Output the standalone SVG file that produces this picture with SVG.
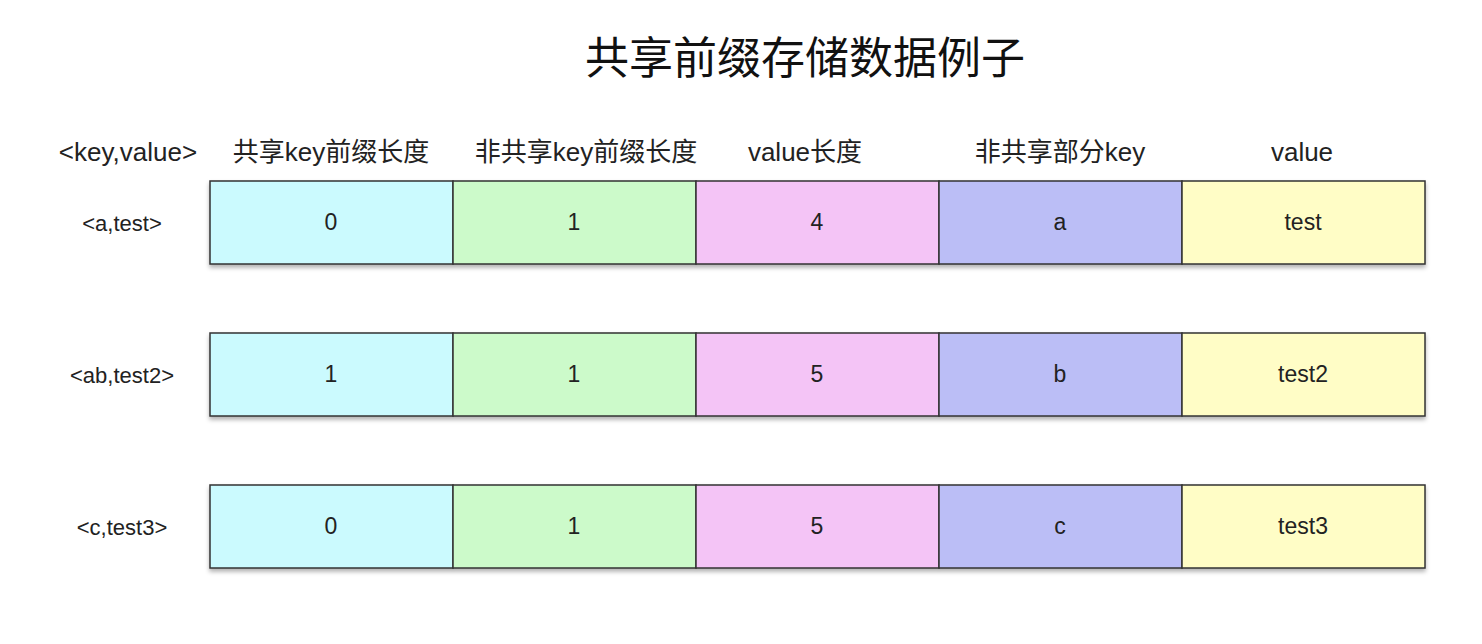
<svg xmlns="http://www.w3.org/2000/svg" width="1482" height="644" viewBox="0 0 1482 644">
<style>
.t{font-family:"Liberation Sans","Noto Sans CJK SC",sans-serif;fill:#222;text-anchor:middle;dominant-baseline:central}
.h{font-family:"Liberation Sans","Noto Sans CJK SC",sans-serif;font-size:26px;fill:#222;text-anchor:middle;dominant-baseline:central}
.c{stroke:#333;stroke-width:1.5}
.v{font-size:23px}
.l{font-size:22px}
</style>
<defs>
<filter id="sh" x="-5%" y="-10%" width="110%" height="130%">
<feDropShadow dx="0" dy="3" stdDeviation="2" flood-color="#000" flood-opacity="0.3"/>
</filter>
</defs>
<rect width="1482" height="644" fill="#fff"/>
<text x="805" y="55" font-family="Noto Sans CJK SC,sans-serif" font-size="44" fill="#111" text-anchor="middle" dominant-baseline="central">共享前缀存储数据例子</text>
<g id="headers">
<text class="h" x="128" y="152">&lt;key,value&gt;</text>
<text class="h" x="331" y="152">共享key前缀长度</text>
<text class="h" x="586" y="152">非共享key前缀长度</text>
<text class="h" x="805" y="152">value长度</text>
<text class="h" x="1060" y="152">非共享部分key</text>
<text class="h" x="1302" y="152">value</text>
</g>
<g id="row1">
<text class="t l" x="122" y="223">&lt;a,test&gt;</text>
<g filter="url(#sh)">
<rect class="c" x="210" y="181" width="243" height="83" fill="#CBFAFE"/>
<rect class="c" x="453" y="181" width="243" height="83" fill="#CCFACA"/>
<rect class="c" x="696" y="181" width="243" height="83" fill="#F4C4F6"/>
<rect class="c" x="939" y="181" width="243" height="83" fill="#BBBEF6"/>
<rect class="c" x="1182" y="181" width="243" height="83" fill="#FFFDC6"/>
</g>
<text class="t v" x="331" y="222">0</text>
<text class="t v" x="574" y="222">1</text>
<text class="t v" x="817" y="222">4</text>
<text class="t v" x="1060" y="222">a</text>
<text class="t v" x="1303" y="222">test</text>
</g>
<g id="row2">
<text class="t l" x="122" y="375">&lt;ab,test2&gt;</text>
<g filter="url(#sh)">
<rect class="c" x="210" y="333" width="243" height="83" fill="#CBFAFE"/>
<rect class="c" x="453" y="333" width="243" height="83" fill="#CCFACA"/>
<rect class="c" x="696" y="333" width="243" height="83" fill="#F4C4F6"/>
<rect class="c" x="939" y="333" width="243" height="83" fill="#BBBEF6"/>
<rect class="c" x="1182" y="333" width="243" height="83" fill="#FFFDC6"/>
</g>
<text class="t v" x="331" y="374">1</text>
<text class="t v" x="574" y="374">1</text>
<text class="t v" x="817" y="374">5</text>
<text class="t v" x="1060" y="374">b</text>
<text class="t v" x="1303" y="374">test2</text>
</g>
<g id="row3">
<text class="t l" x="122" y="527">&lt;c,test3&gt;</text>
<g filter="url(#sh)">
<rect class="c" x="210" y="485" width="243" height="83" fill="#CBFAFE"/>
<rect class="c" x="453" y="485" width="243" height="83" fill="#CCFACA"/>
<rect class="c" x="696" y="485" width="243" height="83" fill="#F4C4F6"/>
<rect class="c" x="939" y="485" width="243" height="83" fill="#BBBEF6"/>
<rect class="c" x="1182" y="485" width="243" height="83" fill="#FFFDC6"/>
</g>
<text class="t v" x="331" y="526">0</text>
<text class="t v" x="574" y="526">1</text>
<text class="t v" x="817" y="526">5</text>
<text class="t v" x="1060" y="526">c</text>
<text class="t v" x="1303" y="526">test3</text>
</g>
<g id="connectors"/>
</svg>
